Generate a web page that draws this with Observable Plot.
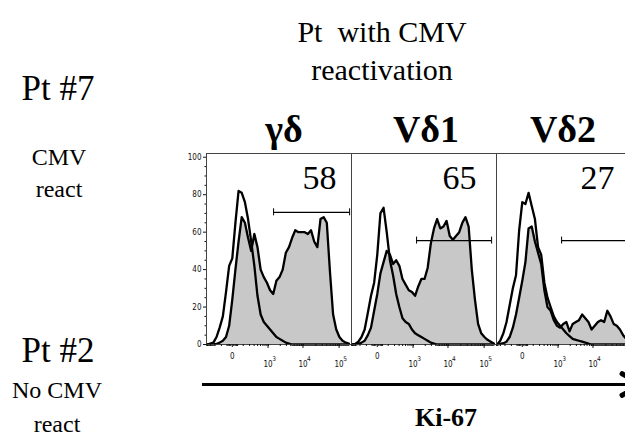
<!DOCTYPE html>
<html><head><meta charset="utf-8">
<script src="https://cdn.jsdelivr.net/npm/d3@7"></script>
<script src="https://cdn.jsdelivr.net/npm/@observablehq/plot@0.6"></script>
<style>
html,body{margin:0;padding:0;background:#fff;overflow:hidden;width:625px;height:438px;}
#wrap{position:relative;width:625px;height:438px;overflow:hidden;font-family:"Liberation Serif","Times New Roman",serif;color:#000;}
.t{position:absolute;white-space:nowrap;line-height:1;transform:translateX(-50%);}
.b{font-weight:bold;}
#plot{position:absolute;left:0;top:140px;width:641px;}
#plot svg{max-width:none !important;width:641px !important;height:234px !important;}
#arrowLine{position:absolute;left:202px;top:383px;width:430px;height:3px;background:#000;}
.barb{position:absolute;width:24px;height:5px;background:#000;border-radius:2px;transform-origin:0 50%;}
</style></head><body>
<div id="wrap">
  <div class="t" style="left:382px;top:17px;font-size:30px;">Pt&nbsp; with CMV</div>
  <div class="t" style="left:382px;top:55px;font-size:30px;">reactivation</div>
  <div class="t" style="left:58px;top:71px;font-size:35px;">Pt #7</div>
  <div class="t" style="left:59px;top:145px;font-size:24px;">CMV</div>
  <div class="t" style="left:59px;top:177px;font-size:24px;">react</div>
  <div class="t" style="left:58px;top:333px;font-size:35px;">Pt #2</div>
  <div class="t" style="left:57px;top:378px;font-size:24px;">No CMV</div>
  <div class="t" style="left:57px;top:412px;font-size:24px;">react</div>
  <div class="t b" style="left:284px;top:110px;font-size:38px;">γδ</div>
  <div class="t b" style="left:426px;top:110px;font-size:38px;">Vδ1</div>
  <div class="t b" style="left:563px;top:110px;font-size:38px;">Vδ2</div>
  <div class="t b" style="left:446px;top:405px;font-size:26px;">Ki-67</div>
  <div id="arrowLine"></div>
  <div class="barb" style="left:620px;top:370px;transform:rotate(30deg);"></div>
  <div class="barb" style="left:620px;top:394px;transform:rotate(-30deg);"></div>
  <div id="plot"></div>
</div>
<script>
// Panels (T-cell subsets)
const panels = ["γδ", "Vδ1", "Vδ2"];
// Ki-67 fluorescence bin centres (biexponential display)
const ki67Bins = [-395, -306, -232, -172, -123, -82, -49, -22, 0, 22, 49, 82, 123, 172, 232, 306, 395, 505, 639, 803, 1002, 1246, 1544, 1909, 2353, 2896, 3560, 4370, 5360, 6569, 8045, 9848, 12051, 14741, 18027, 22041, 26943, 32930, 40243, 49175, 60085, 73410, 89685, 109563, 133843, 163500];
// Pt #7 (CMV reactivation) – grey filled histograms, % of max
const pt7_gd  = [0,0,0,0.3,1,2,4,10,24,40,55,68,65,57,50,59,52,40,36,33,29,27,34,36,40,49,52,57,61,60,60,60,59,61,55,52,67,68,65,39,16,8,4,2,1,0.5];
const pt7_vd1 = [0,0,0.3,1,2,5,9,18,27,38,44,50,48,43,45,42,35,32,29,28,26,31,35,35,41,54,62,67,62,63,66,58,56,58,60,65,68,63,40,24,11,6,4,2.5,1.5,0.5];
const pt7_vd2 = [0,0.3,0.7,1.5,4,9,16,25,34,44,62,63,55,49,43,29,20,18,13,10,9,11,12,7,11,12,13,16,14,12,8,10,12,13,12,18,15,11,10,8,5,3,2,1,0.5,0];
// Pt #2 (no CMV reactivation) – black open histograms, % of max
const pt2_gd  = [0,0.5,1,4,9,15,28,42,46,65,82,81,76,67,55,42,26,16,12,10,8,6,4,3,2,1,0.5,0,0,0,0,0,0,0,0,0,0,0,0,0,0,0,0,0,0,0];
const pt2_vd1 = [0,0.3,1.5,4,8,17,26,33,48,70,73,60,45,37,27,20,14,12,11,8,6,5,4,3,2,1,0.5,0,0,0,0,0,0,0,0,0,0,0,0,0,0,0,0,0,0,0];
const pt2_vd2 = [0,2,6,12,21,30,37,61,76,75,81,74,67,52,48,33,25,20,15,12,10,8,6,4.5,3,2.5,2,1.5,1,0.5,0,0,0,0,0,0,0,0,0,0,0,0,0,0,0,0];
// Ki-67+ gates
const gatePct   = ["58", "65", "27"];
const gateLow   = [1276, 1112, 1112];
const gateHigh  = [171500, 141700, 141700];
const gateLevel = [70.6, 55.5, 55.5];
// axis ticks
const yMajor = [0, 20, 40, 60, 80, 100];
const yMinor = [5,10,15,25,30,35,45,50,55,65,70,75,85,90,95];
const xZero = [0];
const xDecades = [1e3, 1e4, 1e5];
const xMinor = [-400,-300,-200,-100,-40,-30,-20,-10,10,20,30,40,100,200,300,400,500,600,700,800,900,2000,3000,4000,5000,6000,7000,8000,9000,20000,30000,40000,50000,60000,70000,80000,90000];

const pt7 = [pt7_gd, pt7_vd1, pt7_vd2];
const pt2 = [pt2_gd, pt2_vd1, pt2_vd2];
const rows = panels.flatMap((panel, p) => ki67Bins.map((x, i) => ({panel, x, pt7: pt7[p][i], pt2: pt2[p][i]})));
const gates = panels.map((panel, p) => ({panel, pct: gatePct[p], x1: gateLow[p], x2: gateHigh[p], y: gateLevel[p]}));
// label anchors (data units) for the percentages
const pctAt = [25400, 18490, 11820];
const labels = gates.map((g, p) => ({...g, lx: pctAt[p], ly: 89}));

const chart = Plot.plot({
  width: 641,
  height: 234,
  marginLeft: 206,
  marginRight: 0,
  marginTop: 13,
  marginBottom: 30,
  style: {fontFamily: '"Liberation Sans Narrow","DejaVu Sans Condensed",sans-serif', fontSize: "8px", color: "#111", background: "transparent", maxWidth: "none"},
  fx: {domain: panels, padding: 0, axis: null, label: null},
  x: {type: "symlog", constant: 100, domain: [-414, 193450], axis: null},
  y: {domain: [0, 102], axis: null},
  marks: [
    Plot.areaY(rows, {fx: "panel", x: "x", y: "pt7", fill: "#c8c8c8"}),
    Plot.lineY(rows, {fx: "panel", x: "x", y: "pt7", stroke: "#000", strokeWidth: 2.3, strokeLinejoin: "round"}),
    Plot.lineY(rows, {fx: "panel", x: "x", y: "pt2", stroke: "#000", strokeWidth: 2.3, strokeLinejoin: "round"}),
    Plot.frame({stroke: "#444", strokeWidth: 1}),
    Plot.ruleY(gates, {fx: "panel", y: "y", x1: "x1", x2: "x2", stroke: "#000", strokeWidth: 1.3}),
    Plot.ruleX(gates, {fx: "panel", x: "x1", y1: "y", y2: "y", insetTop: -3.5, insetBottom: -3.5, stroke: "#000", strokeWidth: 1}),
    Plot.ruleX(gates, {fx: "panel", x: "x2", y1: "y", y2: "y", insetTop: -3.5, insetBottom: -3.5, stroke: "#000", strokeWidth: 1}),
    Plot.text(labels, {fx: "panel", x: "lx", y: "ly", text: "pct", fontSize: 34, fontFamily: '"Liberation Serif","Times New Roman",serif', fill: "#000"}),
    Plot.axisY({ticks: yMajor, tickSize: 3, tickPadding: 2, label: null}),
    Plot.axisY({ticks: yMinor, tickSize: 1.5, fill: "none", label: null}),
    Plot.axisX({ticks: xZero, tickSize: 3, tickPadding: 6, label: null}),
    Plot.axisX({ticks: xDecades, tickSize: 4, tickPadding: 13, dx: -2, tickFormat: () => "10", label: null}),
    Plot.axisX({ticks: xDecades, tickSize: 0, tickPadding: 12, dx: 4, fontSize: 6.5, tickFormat: d => String(Math.round(Math.log10(d))), label: null}),
    Plot.axisX({ticks: xMinor, tickSize: 2, fill: "none", label: null})
  ]
});
document.getElementById("plot").appendChild(chart);
</script>
</body></html>
